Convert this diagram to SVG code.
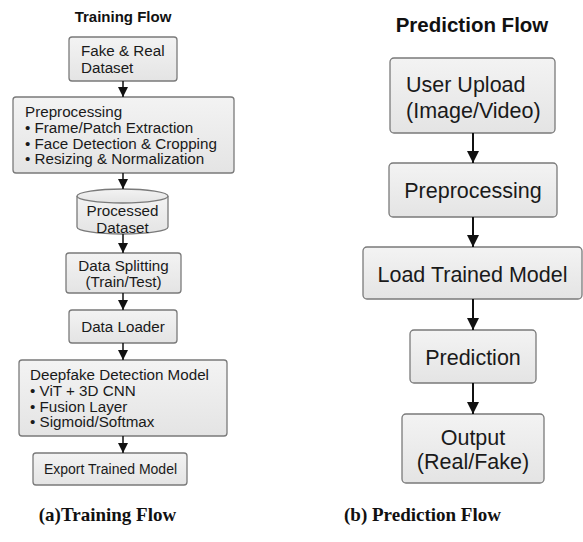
<svg xmlns="http://www.w3.org/2000/svg" width="583" height="542" viewBox="0 0 583 542">
<defs>
<linearGradient id="g" x1="0" y1="0" x2="0" y2="1">
<stop offset="0" stop-color="#f3f3f3"/>
<stop offset="1" stop-color="#e4e4e4"/>
</linearGradient>
<marker id="ah" viewBox="0 0 10 10" refX="10" refY="5" markerWidth="10" markerHeight="10" markerUnits="userSpaceOnUse" orient="auto">
<path d="M0,0 L10,5 L0,10 z" fill="#111"/>
</marker>
<marker id="ahb" viewBox="0 0 10 10" refX="10" refY="5" markerWidth="12" markerHeight="12" markerUnits="userSpaceOnUse" orient="auto">
<path d="M0,0 L10,5 L0,10 z" fill="#111"/>
</marker>
</defs>
<style>
.box{fill:url(#g);stroke:#7a7a7a;stroke-width:1.3}
.t{font-family:"Liberation Sans",Arial,sans-serif;fill:#1a1a1a}
.s{font-size:15.2px}
.b{font-size:21.5px}
.title{font-family:"Liberation Sans",Arial,sans-serif;font-weight:bold;fill:#111}
.cap{font-family:"Liberation Serif","Times New Roman",serif;font-weight:bold;font-size:19px;fill:#111}
.c{stroke:#111;stroke-width:1.5;fill:none;marker-end:url(#ah)}
.cb{stroke:#111;stroke-width:2;fill:none;marker-end:url(#ahb)}
</style>
<rect width="583" height="542" fill="#fff"/>

<text class="title" x="123" y="22" font-size="15" text-anchor="middle">Training Flow</text>
<text class="title" x="472" y="32" font-size="20.5" text-anchor="middle">Prediction Flow</text>

<g id="fake-real">
<rect class="box" x="69" y="37" width="108" height="44" rx="3"/>
<text class="t s" x="81" y="56">Fake &amp; Real</text>
<text class="t s" x="81" y="73">Dataset</text>
</g>
<g id="preprocessing-a">
<rect class="box" x="13" y="97" width="221" height="76" rx="3"/>
<text class="t s" x="25" y="117">Preprocessing</text>
<text class="t s" x="25" y="133">• Frame/Patch Extraction</text>
<text class="t s" x="25" y="148.5">• Face Detection &amp; Cropping</text>
<text class="t s" x="25" y="164">• Resizing &amp; Normalization</text>
</g>
<g id="processed-dataset">
<path class="box" d="M77,196 L77,227 A45.5,7 0 0 0 168,227 L168,196"/>
<ellipse class="box" cx="122.5" cy="196" rx="45.5" ry="7"/>
<text class="t s" x="122.5" y="216" text-anchor="middle">Processed</text>
<text class="t s" x="122.5" y="233" text-anchor="middle">Dataset</text>
</g>
<g id="data-splitting">
<rect class="box" x="66" y="253" width="115" height="40" rx="3"/>
<text class="t s" x="123.5" y="271" text-anchor="middle">Data Splitting</text>
<text class="t s" x="123.5" y="286.5" text-anchor="middle">(Train/Test)</text>
</g>
<g id="data-loader">
<rect class="box" x="69" y="310" width="108" height="33" rx="3"/>
<text class="t s" x="123" y="332" text-anchor="middle">Data Loader</text>
</g>
<g id="model">
<rect class="box" x="19" y="360" width="208" height="76" rx="3"/>
<text class="t s" x="30" y="380">Deepfake Detection Model</text>
<text class="t s" x="30" y="396">• ViT + 3D CNN</text>
<text class="t s" x="30" y="411.5">• Fusion Layer</text>
<text class="t s" x="30" y="427">• Sigmoid/Softmax</text>
</g>
<g id="export">
<rect class="box" x="33" y="453" width="154" height="32" rx="3"/>
<text class="t" x="110.5" y="474" font-size="14" text-anchor="middle">Export Trained Model</text>
</g>

<g id="user-upload">
<rect class="box" x="390" y="58" width="165" height="75" rx="4"/>
<text class="t b" x="406" y="92">User Upload</text>
<text class="t b" x="406" y="118">(Image/Video)</text>
</g>
<g id="preprocessing-b">
<rect class="box" x="389" y="163" width="168" height="54" rx="4"/>
<text class="t b" x="473" y="198" text-anchor="middle">Preprocessing</text>
</g>
<g id="load-model">
<rect class="box" x="363" y="247" width="219" height="52" rx="4"/>
<text class="t b" x="472.5" y="282" text-anchor="middle">Load Trained Model</text>
</g>
<g id="prediction">
<rect class="box" x="410" y="330" width="126" height="53" rx="4"/>
<text class="t b" x="473" y="365" text-anchor="middle">Prediction</text>
</g>
<g id="output">
<rect class="box" x="402" y="414" width="142" height="69" rx="4"/>
<text class="t b" x="473" y="445" text-anchor="middle">Output</text>
<text class="t b" x="473" y="469" text-anchor="middle">(Real/Fake)</text>
</g>

<g id="connectors">
<line class="c" x1="123" y1="81" x2="123" y2="97"/>
<line class="c" x1="123" y1="173" x2="123" y2="189"/>
<line class="c" x1="123" y1="234" x2="123" y2="253"/>
<line class="c" x1="123" y1="293" x2="123" y2="310"/>
<line class="c" x1="123" y1="343" x2="123" y2="360"/>
<line class="c" x1="123" y1="436" x2="123" y2="453"/>
<line class="cb" x1="473" y1="133" x2="473" y2="163"/>
<line class="cb" x1="473" y1="217" x2="473" y2="247"/>
<line class="cb" x1="473" y1="299" x2="473" y2="330"/>
<line class="cb" x1="473" y1="383" x2="473" y2="414"/>
</g>

<text class="cap" x="107.5" y="521" text-anchor="middle">(a)Training Flow</text>
<text class="cap" x="422.5" y="521" text-anchor="middle">(b) Prediction Flow</text>
</svg>
